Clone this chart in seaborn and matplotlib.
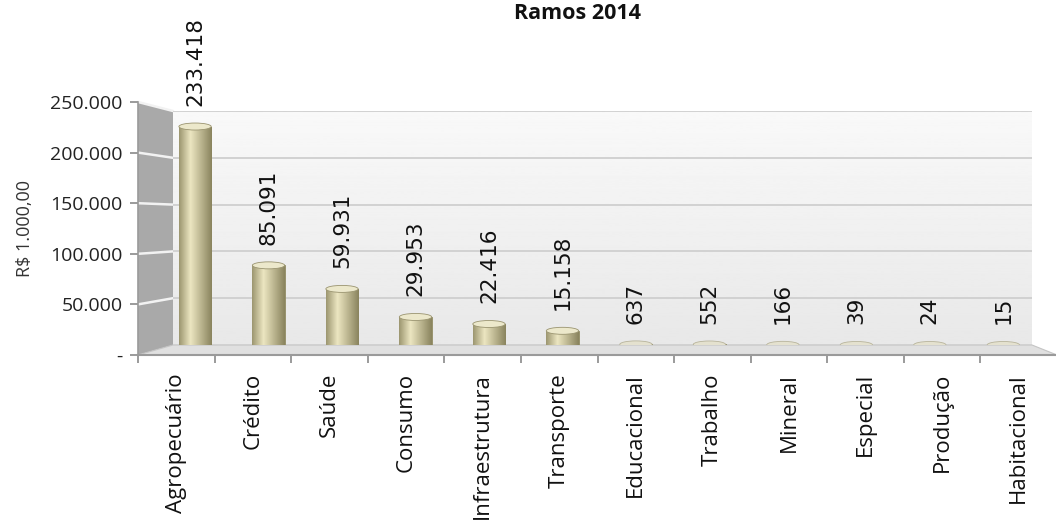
import numpy as np
import pandas as pd
import matplotlib
matplotlib.use("Agg")
import matplotlib.pyplot as plt
from matplotlib.patches import Polygon, Ellipse
from matplotlib.lines import Line2D
import seaborn as sns

ramos = ["Agropecuário", "Crédito", "Saúde", "Consumo", "Infraestrutura",
         "Transporte", "Educacional", "Trabalho", "Mineral", "Especial",
         "Produção", "Habitacional"]
valores = [233418, 85091, 59931, 29953, 22416, 15158, 637, 552, 166, 39, 24, 15]
rotulos = ["233.418", "85.091", "59.931", "29.953", "22.416", "15.158",
           "637", "552", "166", "39", "24", "15"]
yticks = [0, 50000, 100000, 150000, 200000, 250000]
ytick_labels = ["-", "50.000", "100.000", "150.000", "200.000", "250.000"]

sns.set_theme(style="white")
plt.rcParams["font.family"] = ["Open Sans", "DejaVu Sans"]

df = pd.DataFrame({"ramo": ramos, "valor": valores})

W, H = 1056, 524
fig = plt.figure(figsize=(W / 100, H / 100), dpi=100)


def fx(px):
    return px / W


def fy(py):
    return 1 - py / H


# back wall (bars + gridlines) and front frame (axis lines, ticks, labels)
back = fig.add_axes([fx(173), fy(345), fx(1032) - fx(173), fy(111) - fy(345)])
front = fig.add_axes([fx(138), fy(355), fx(1057) - fx(138), fy(102) - fy(355)])
back.set_zorder(1)
front.set_zorder(2)
front.patch.set_visible(False)

back_xlim = (-0.30, 11.39)

# light gradient on the back wall
wall_grad = np.linspace(0.91, 0.975, 256).reshape(-1, 1)
back.imshow(wall_grad, extent=(*back_xlim, 0, 250000), aspect="auto",
            cmap="gray", vmin=0, vmax=1, origin="lower", zorder=0)

sns.barplot(data=df, x="ramo", y="valor", color="#d2cb9c", width=0.44,
            ax=back, zorder=3, saturation=1)
back.set_xlim(*back_xlim)
back.set_ylim(0, 250000)
back.set_yticks(yticks)
back.yaxis.grid(True, color="#cfcfcf", linewidth=1.3)
back.set_axisbelow(True)
back.set_xticks([])
back.set_yticklabels([])
back.tick_params(left=False, bottom=False)
back.set_xlabel("")
back.set_ylabel("")
for s in back.spines.values():
    s.set_visible(False)

# cylinder shading on each bar, plus a lighter top cap
shade = np.concatenate([np.linspace(0.55, 1.0, 35), np.linspace(1.0, 0.45, 65)])
cmap = matplotlib.colors.LinearSegmentedColormap.from_list(
    "khaki", ["#8a845e", "#ebe5c0"])
px_per_unit = (345 - 111) / 250000
cap_h = 7 / px_per_unit
for p in list(back.patches):
    x0, y0 = p.get_x(), p.get_y()
    w, h = p.get_width(), p.get_height()
    p.set_edgecolor("#8c875f")
    p.set_linewidth(0.6)
    im = back.imshow(shade.reshape(1, -1), extent=(x0, x0 + w, y0, y0 + h),
                     aspect="auto", cmap=cmap, vmin=0.45, vmax=1.0, zorder=3.5)
    im.set_clip_path(p)
    small = h < 2000
    back.add_patch(Ellipse((x0 + w / 2, y0 + h), w, cap_h,
                           facecolor="#e4e1cf" if small else "#ece8cb",
                           edgecolor="#b8b49c" if small else "#9a9470",
                           linewidth=0.6, zorder=4))

for i, (v, lab) in enumerate(zip(valores, rotulos)):
    back.annotate(lab, (i, v), xytext=(0, 15), textcoords="offset points",
                  rotation=90, ha="center", va="bottom", fontsize=15.5,
                  family="DejaVu Sans", color="#111111",
                  annotation_clip=False, zorder=5)

# front frame
front.set_xlim(-0.5, 11.5)
front.set_ylim(0, 250000)
front.set_yticks(yticks)
front.set_yticklabels(ytick_labels, fontsize=14, color="#222222")
front.set_xticks(range(len(ramos)))
front.set_xticklabels(ramos, rotation=90, fontsize=16, color="#111111")
front.set_xticks(np.arange(-0.5, 12, 1), minor=True)
front.tick_params(axis="x", which="major", length=0, pad=13)
front.tick_params(axis="x", which="minor", length=6, width=1.2,
                  color="#8a8a8a", direction="out", bottom=True)
front.tick_params(axis="y", length=6, width=1.2, color="#8a8a8a", left=True,
                  direction="out", pad=5)
front.set_ylabel("R$ 1.000,00", fontsize=13, color="#333333", labelpad=12)
for s in ["top", "right"]:
    front.spines[s].set_visible(False)
front.spines["left"].set_color("#9a9a9a")
front.spines["left"].set_linewidth(1.2)
front.spines["bottom"].set_color("#9a9a9a")
front.spines["bottom"].set_linewidth(1.5)

# side wall and floor connecting the front frame to the back wall
wall = Polygon([(fx(138), fy(102)), (fx(173), fy(111)), (fx(173), fy(345)),
                (fx(138), fy(355))], closed=True, transform=fig.transFigure,
               facecolor="#a9a9a9", edgecolor="none", zorder=0.5)
floor = Polygon([(fx(138), fy(355)), (fx(173), fy(345)), (fx(1032), fy(345)),
                 (fx(1057), fy(355))], closed=True, transform=fig.transFigure,
                facecolor="#e0e0e0", edgecolor="#c4c4c4", linewidth=0.8,
                zorder=0.5)
fig.patches.extend([wall, floor])

inv = fig.transFigure.inverted()
for t in yticks[1:]:
    p_front = inv.transform(front.transData.transform((-0.5, t)))
    p_back = inv.transform(back.transData.transform((back_xlim[0], t)))
    fig.lines.append(Line2D([p_front[0], p_back[0]], [p_front[1], p_back[1]],
                            transform=fig.transFigure, color="#f2f2f2",
                            linewidth=1.8, zorder=0.6))

fig.text(0.547, 0.975, "Ramos 2014", ha="center", va="center",
         fontsize=15.5, fontweight="bold", color="#111111")

fig.savefig("out.png", dpi=100)
